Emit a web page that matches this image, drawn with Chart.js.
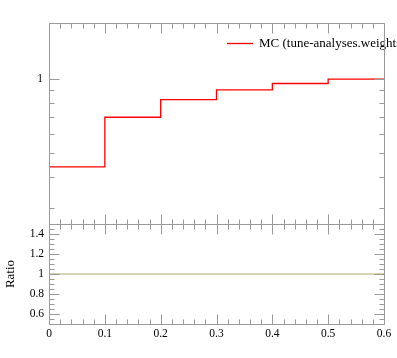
<!DOCTYPE html>
<html>
<head>
<meta charset="utf-8">
<script src="https://cdn.jsdelivr.net/npm/chart.js@4"></script>
<style>
  html, body { margin: 0; padding: 0; background: #ffffff; }
  #wrap { position: relative; width: 397px; height: 358px; overflow: hidden; }
  canvas { position: absolute; left: 0; }
  #top { top: 0; }
  #bot { top: 214px; }
</style>
</head>
<body>
<div id="wrap">
  <canvas id="top" width="397" height="230"></canvas>
  <canvas id="bot" width="397" height="144"></canvas>
</div>
<script>
// ---- data ----
const binEdges = [0, 0.1, 0.2, 0.3, 0.4, 0.5, 0.6];
const mcValues = [0.44, 0.70, 0.826, 0.905, 0.96, 1.0];
const ratioValues = [1, 1, 1, 1, 1, 1];
const seriesLabel = 'MC (tune-analyses.weights)';
const xTickValues = [0, 0.1, 0.2, 0.3, 0.4, 0.5, 0.6];
const xTickLabels = ['0', '0.1', '0.2', '0.3', '0.4', '0.5', '0.6'];
const topYMajor = [1];
const topYMajorLabels = ['1'];
const topYMinor = [0.3, 0.4, 0.5, 0.6, 0.7, 0.8, 0.9];
const ratioMajor = [0.6, 0.8, 1.0, 1.2, 1.4];
const ratioMajorLabels = ['0.6', '0.8', '1', '1.2', '1.4'];
const ratioMinor = [0.55, 0.65, 0.7, 0.75, 0.85, 0.9, 0.95, 1.05, 1.1, 1.15, 1.25, 1.3, 1.35, 1.45];
const xMinor = [];
for (let i = 1; i < 30; i++) { if (i % 5 !== 0) xMinor.push(i * 0.02); }

function stepPoints(edges, vals) {
  const pts = vals.map((v, i) => ({ x: edges[i], y: v }));
  pts.push({ x: edges[edges.length - 1], y: vals[vals.length - 1] });
  return pts;
}

const FRAME = '#9a9a9a';
const FONT = '"Liberation Serif", "DejaVu Serif", serif';

function drawFrameAndTicks(chart, yMajor, yMinor) {
  const ctx = chart.ctx;
  const a = chart.chartArea;
  const xs = chart.scales.x, ys = chart.scales.y;
  ctx.save();
  ctx.strokeStyle = FRAME;
  ctx.lineWidth = 1;
  ctx.beginPath();
  const L = Math.round(a.left) + 0.5, R = Math.round(a.right) + 0.5;
  const T = Math.round(a.top) + 0.5, B = Math.round(a.bottom) + 0.5;
  ctx.rect(L, T, R - L, B - T);
  // x ticks top & bottom
  xTickValues.forEach(v => {
    const px = Math.round(xs.getPixelForValue(v)) + 0.5;
    ctx.moveTo(px, T); ctx.lineTo(px, T + 10);
    ctx.moveTo(px, B); ctx.lineTo(px, B - 10);
  });
  xMinor.forEach(v => {
    const px = Math.round(xs.getPixelForValue(v)) + 0.5;
    ctx.moveTo(px, T); ctx.lineTo(px, T + 5);
    ctx.moveTo(px, B); ctx.lineTo(px, B - 5);
  });
  yMajor.forEach(v => {
    const py = Math.round(ys.getPixelForValue(v)) + 0.5;
    ctx.moveTo(L, py); ctx.lineTo(L + 10, py);
    ctx.moveTo(R, py); ctx.lineTo(R - 10, py);
  });
  yMinor.forEach(v => {
    const py = Math.round(ys.getPixelForValue(v)) + 0.5;
    ctx.moveTo(L, py); ctx.lineTo(L + 5, py);
    ctx.moveTo(R, py); ctx.lineTo(R - 5, py);
  });
  ctx.stroke();
  ctx.restore();
}

const topPlugin = {
  id: 'topDeco',
  afterDraw(chart) {
    drawFrameAndTicks(chart, topYMajor, topYMinor);
    const ctx = chart.ctx;
    const ys = chart.scales.y;
    ctx.save();
    ctx.fillStyle = '#000';
    ctx.font = '11.5px ' + FONT;
    ctx.textAlign = 'right';
    ctx.textBaseline = 'middle';
    topYMajor.forEach((v, i) => ctx.fillText(topYMajorLabels[i], 43, ys.getPixelForValue(v)));
    // legend
    ctx.strokeStyle = chart.data.datasets[0].borderColor;
    ctx.lineWidth = 1.3;
    ctx.beginPath();
    ctx.moveTo(227, 43.5); ctx.lineTo(253, 43.5);
    ctx.stroke();
    ctx.font = '13px ' + FONT;
    ctx.textAlign = 'left';
    ctx.fillText(chart.data.datasets[0].label, 259, 44);
    // redraw right frame line over legend text
    ctx.strokeStyle = FRAME;
    ctx.lineWidth = 1;
    ctx.beginPath();
    const R = Math.round(chart.chartArea.right) + 0.5;
    ctx.moveTo(R, 30); ctx.lineTo(R, 56);
    ctx.stroke();
    ctx.restore();
  }
};

const botPlugin = {
  id: 'botDeco',
  afterDraw(chart) {
    drawFrameAndTicks(chart, ratioMajor, ratioMinor);
    const ctx = chart.ctx;
    const xs = chart.scales.x, ys = chart.scales.y;
    ctx.save();
    ctx.fillStyle = '#000';
    ctx.font = '11.5px ' + FONT;
    ctx.textAlign = 'right';
    ctx.textBaseline = 'middle';
    ratioMajor.forEach((v, i) => ctx.fillText(ratioMajorLabels[i], 44, ys.getPixelForValue(v)));
    ctx.textAlign = 'center';
    xTickValues.forEach((v, i) => ctx.fillText(xTickLabels[i], xs.getPixelForValue(v), 120));
    ctx.font = '13px ' + FONT;
    ctx.translate(11, (chart.chartArea.top + chart.chartArea.bottom) / 2);
    ctx.rotate(-Math.PI / 2);
    ctx.fillText('Ratio', 0, 0);
    ctx.restore();
  }
};

new Chart(document.getElementById('top'), {
  type: 'line',
  data: {
    datasets: [{
      label: seriesLabel,
      data: stepPoints(binEdges, mcValues),
      borderColor: 'rgb(255,0,0)',
      borderWidth: 1.3,
      pointRadius: 0,
      stepped: 'before',
      fill: false
    }]
  },
  options: {
    responsive: false,
    animation: false,
    layout: { padding: { left: 49, right: 13, top: 23, bottom: 6 } },
    plugins: { legend: { display: false }, tooltip: { enabled: false } },
    scales: {
      x: { type: 'linear', min: 0, max: 0.6, display: false },
      y: { type: 'logarithmic', min: 0.258, max: 1.69, display: false }
    }
  },
  plugins: [topPlugin]
});

new Chart(document.getElementById('bot'), {
  type: 'line',
  data: {
    datasets: [{
      label: 'Ratio',
      data: stepPoints(binEdges, ratioValues),
      borderColor: 'rgb(172,170,112)',
      borderWidth: 1.2,
      pointRadius: 0,
      stepped: 'before',
      fill: false
    }]
  },
  options: {
    responsive: false,
    animation: false,
    layout: { padding: { left: 49, right: 13, top: 10, bottom: 34 } },
    plugins: { legend: { display: false }, tooltip: { enabled: false } },
    scales: {
      x: { type: 'linear', min: 0, max: 0.6, display: false },
      y: { type: 'linear', min: 0.5, max: 1.5, display: false }
    }
  },
  plugins: [botPlugin]
});
</script>
</body>
</html>
